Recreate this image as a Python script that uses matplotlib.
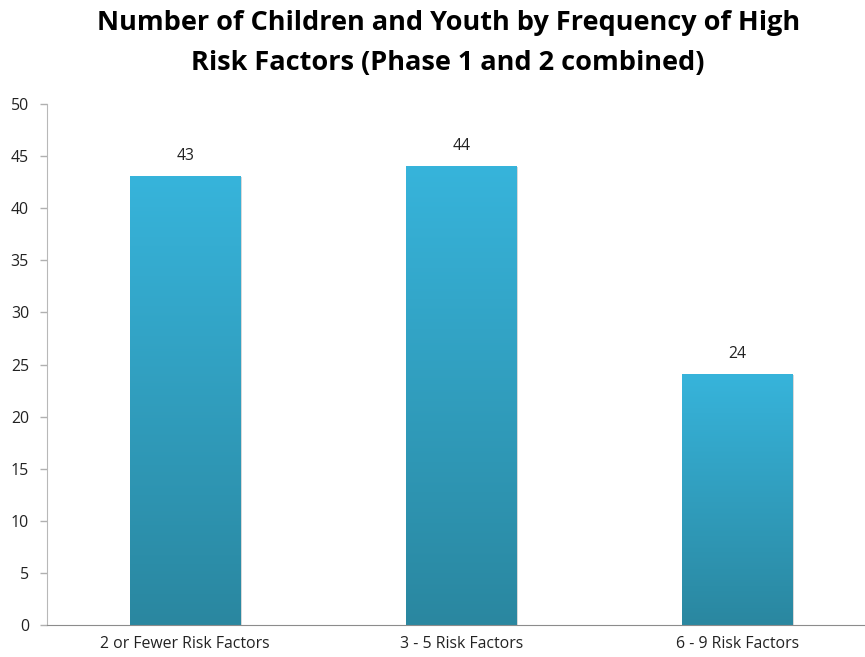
import numpy as np
import matplotlib.pyplot as plt
from matplotlib.colors import LinearSegmentedColormap

categories = ['2 or Fewer Risk Factors', '3 - 5 Risk Factors', '6 - 9 Risk Factors']
counts = [43, 44, 24]

plt.rcParams['font.family'] = ['Open Sans', 'DejaVu Sans']

fig = plt.figure(figsize=(8.65, 6.57), dpi=100)
ax = fig.add_axes([0.0543, 0.0487, 0.958, 0.793])
ax.spines['bottom'].set_bounds(-0.5, 2.47)

# vertical gradient, dark teal at the bottom to light blue at the top
cmap = LinearSegmentedColormap.from_list('bar', ['#2a87a0', '#37b4db'])
grad = np.linspace(0, 1, 256).reshape(-1, 1)

x = np.arange(len(categories))
width = 0.40
bars = ax.bar(x, counts, width, color='none', edgecolor='none')
for b, v in zip(bars, counts):
    x0 = b.get_x()
    ax.bar(b.get_x() + width / 2 + 0.006, v, width, color='#d8d8d8', zorder=1)
    im = ax.imshow(grad, cmap=cmap, origin='lower', aspect='auto',
                   extent=[x0, x0 + width, 0, v], zorder=2)
    ax.text(x0 + width / 2, v + 1.2, str(v), ha='center', va='bottom',
            fontsize=11.3, color='#222222')

ax.set_xlim(-0.5, len(categories) - 0.5)
ax.set_ylim(0, 50)
ax.set_yticks(range(0, 51, 5))
ax.set_xticks(x)
ax.set_xticklabels(categories)
ax.tick_params(axis='x', length=0, pad=8, labelsize=11.4, colors='#222222')
ax.tick_params(axis='y', length=5, width=1, color='#b0b0b0', pad=8,
               labelsize=11.4, labelcolor='#222222')
for s in ['top', 'right']:
    ax.spines[s].set_visible(False)
ax.spines['left'].set_color('#b8b8b8')
ax.spines['bottom'].set_color('#8c8c8c')

fig.text(0.518, 0.985, 'Number of Children and Youth by Frequency of High\nRisk Factors (Phase 1 and 2 combined)',
         ha='center', va='top', fontsize=19.5, fontweight='bold',
         linespacing=1.72)

fig.savefig('out.png', dpi=100)
